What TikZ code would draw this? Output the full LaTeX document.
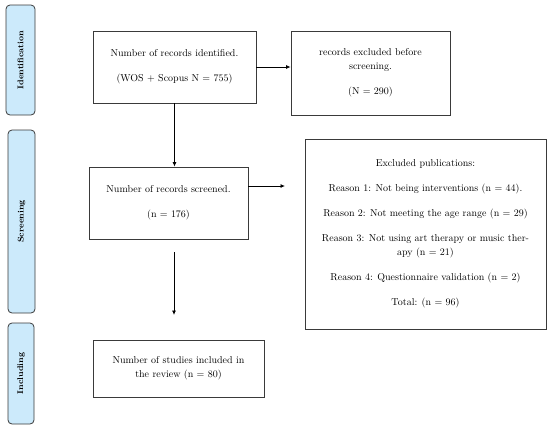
\documentclass[tikz,border=0pt]{standalone}
\usepackage{xcolor}
\usepackage{tikz}
\usetikzlibrary{arrows.meta,positioning,calc}

\definecolor{stagefill}{HTML}{CCEAFB}
\definecolor{linegray}{HTML}{3A3A3A}
\tikzset{
  flowbox/.style={draw=linegray, line width=0.8pt, align=center, inner sep=2pt,
    font=\fontsize{10}{14}\selectfont},
  stagebox/.style={draw=linegray, line width=0.8pt, fill=stagefill, rounded corners=4pt,
    font=\fontsize{8.3}{10}\selectfont\bfseries},
  flowarrow/.style={line width=0.8pt, -{Latex[length=4.5pt,width=4pt]}}
}

\begin{document}
\begin{tikzpicture}[x=1pt,y=-1pt]
        \useasboundingbox (0,0) rectangle (550,429);

        % Draw the stage labels on the left
        \node[stagebox, rotate=90, minimum width=110pt, minimum height=29pt] (identification) at (20.5,60) {Identification};
        \node[stagebox, rotate=90, minimum width=183pt, minimum height=27pt] (screening) at (21.5,221.5) {Screening};
        \node[stagebox, rotate=90, minimum width=101pt, minimum height=26pt] (including) at (21,373.5) {Including};

        % Draw the flow boxes
        \node[flowbox, minimum width=163pt, minimum height=72pt] (identified) at (174.5,67) {Number of records identified.\\[11pt](WOS + Scopus N = 755)};
        \node[flowbox, minimum width=159pt, minimum height=84pt] (excluded) at (370.5,73) {records excluded before\\screening.\\[11pt](N = 290)};
        \node[flowbox, minimum width=159pt, minimum height=72pt] (screened) at (168.5,203) {Number of records screened.\\[11pt](n = 176)};
        \node[flowbox, minimum width=241pt, minimum height=190pt] (publications) at (425.5,234) {Excluded publications:\\[11pt]
          Reason 1: Not being interventions (n = 44).\\[11pt]
          Reason 2: Not meeting the age range (n = 29)\\[11pt]
          Reason 3: Not using art therapy or music ther-\\apy (n = 21)\\[11pt]
          Reason 4: Questionnaire validation (n = 2)\\[11pt]
          Total: (n = 96)};
        \node[flowbox, minimum width=171pt, minimum height=57pt] (included) at (178.5,368.5) {Number of studies included in\\the review (n = 80)};

        % Free ends of the arrows
        \coordinate (pubsarrow) at (285,186);
        \coordinate (gaptop) at (174,252);
        \coordinate (gapend) at (174,315);

        % Draw the arrows
        \draw[flowarrow] (identified.east) -- (identified.east -| excluded.west);
        \draw[flowarrow] (identified.south) -- (identified.south |- screened.north);
        \draw[flowarrow] (screened.east |- pubsarrow) -- (pubsarrow);
        \draw[flowarrow] (gaptop) -- (gapend);

\end{tikzpicture}
\end{document}
